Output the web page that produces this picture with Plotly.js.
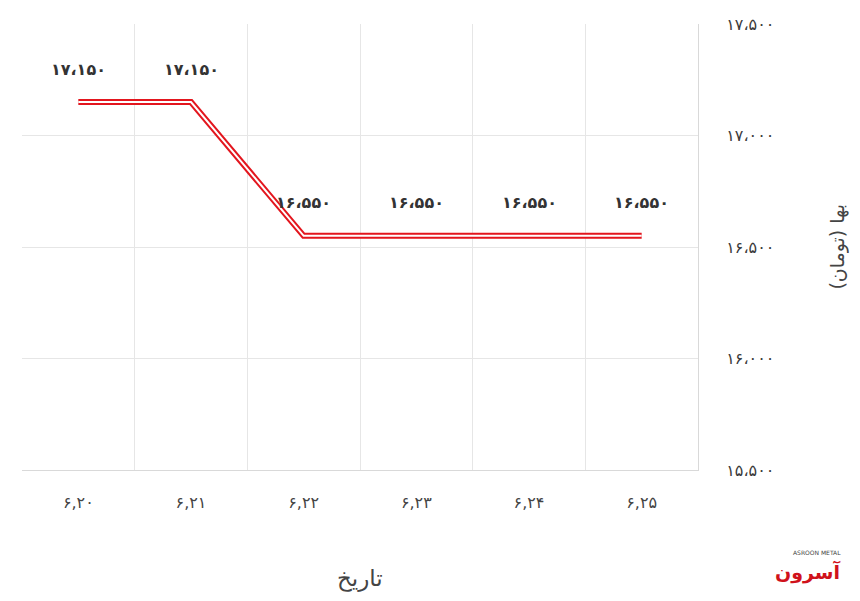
<!DOCTYPE html>
<html><head><meta charset="utf-8">
<script src="https://cdn.plot.ly/plotly-3.0.1.min.js"></script>
<style>html,body{margin:0;padding:0;background:#fff}#chart{width:860px;height:601px}</style>
</head><body><div id="chart"></div>
<script>
const categories = ['۶,۲۰','۶,۲۱','۶,۲۲','۶,۲۳','۶,۲۴','۶,۲۵'];
const prices = [17150, 17150, 16550, 16550, 16550, 16550];
const priceLabels = ['۱۷،۱۵۰','۱۷،۱۵۰','۱۶،۵۵۰','۱۶،۵۵۰','۱۶،۵۵۰','۱۶،۵۵۰'];
const yTickVals = [15500, 16000, 16500, 17000, 17500];
const yTickText = ['۱۵،۵۰۰','۱۶،۰۰۰','۱۶،۵۰۰','۱۷،۰۰۰','۱۷،۵۰۰'];

const font = '"DejaVu Sans", "Noto Sans", sans-serif';

const traces = [
  {x: categories, y: prices, type: 'scatter', mode: 'lines', line: {color: '#e3161e', width: 6}, hoverinfo: 'skip'},
  {x: categories, y: prices, type: 'scatter', mode: 'lines', line: {color: '#ffffff', width: 2}, hoverinfo: 'skip'}
];

const annotations = categories.map((c, i) => ({
  x: c, y: prices[i], xref: 'x', yref: 'y', text: priceLabels[i], showarrow: false,
  yshift: 33, font: {family: font, size: 16, color: '#333', weight: 'bold'}
}));
annotations.push({xref: 'paper', yref: 'paper', x: 0.5, y: -0.243, text: 'تاریخ', showarrow: false,
  font: {family: font, size: 23, color: '#444'}, yanchor: 'middle'});
annotations.push({xref: 'paper', yref: 'paper', x: 1.205, y: 0.5, text: 'بها (تومان)', showarrow: false,
  textangle: -90, font: {family: font, size: 19, color: '#444'}, xanchor: 'center'});
annotations.push({xref: 'paper', yref: 'paper', x: 1.214, y: -0.229, text: '<b>آسرون</b>', showarrow: false,
  font: {family: font, size: 19, color: '#d0121b'}, xanchor: 'right', yanchor: 'middle'});
annotations.push({xref: 'paper', yref: 'paper', x: 1.214, y: -0.186, text: 'ASROON METAL', showarrow: false,
  font: {family: font, size: 6, color: '#444'}, xanchor: 'right', yanchor: 'middle'});

const layout = {
  width: 860, height: 601,
  margin: {l: 22, r: 162, t: 24, b: 131},
  paper_bgcolor: '#fff', plot_bgcolor: '#fff',
  showlegend: false,
  xaxis: {
    type: 'category', range: [-0.5, 5.5], tickson: 'boundaries',
    showgrid: true, gridcolor: '#e6e6e6', gridwidth: 1,
    showline: true, linecolor: '#d9d9d9', linewidth: 1,
    ticks: '', ticklabelstandoff: 18,
    tickfont: {family: font, size: 16, color: '#444'}, fixedrange: true
  },
  yaxis: {
    side: 'right', range: [15500, 17500], tickvals: yTickVals, ticktext: yTickText,
    showgrid: true, gridcolor: '#e6e6e6', gridwidth: 1,
    showline: true, linecolor: '#d9d9d9', linewidth: 1,
    zeroline: false, ticks: '', ticklabelstandoff: 24,
    tickfont: {family: font, size: 16, color: '#3a3a3a'}, fixedrange: true
  },
  annotations: annotations
};

Plotly.newPlot('chart', traces, layout, {displayModeBar: false, staticPlot: true});
</script></body></html>
